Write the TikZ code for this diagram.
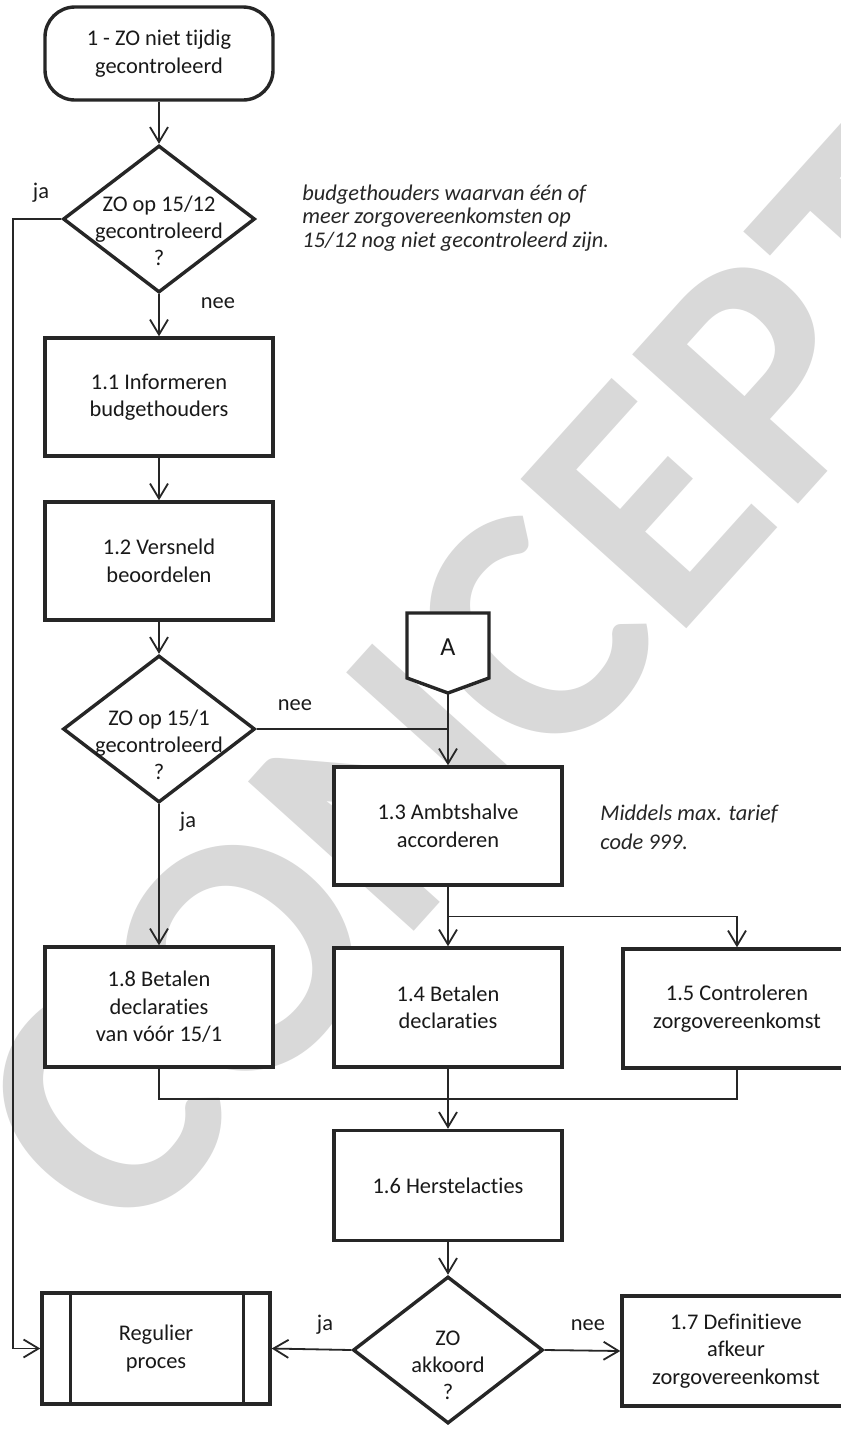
\documentclass[tikz,border=0pt]{standalone}
\usepackage{fontspec}
\setmainfont[Ligatures=NoCommon]{Carlito}
\usetikzlibrary{arrows.meta,shapes.geometric,calc}
\begin{document}
\begin{tikzpicture}[x=0.5pt,y=-0.5pt,
  ink/.style={draw=black!85,line width=1.7pt},
  boxnode/.style={ink,fill=white,rectangle,minimum width=114pt,minimum height=59pt,inner sep=0pt,align=center,font=\fontsize{11.2}{13.75}\selectfont,text=black!90},
  dianode/.style={ink,fill=white,diamond,minimum width=96pt,minimum height=73.5pt,inner sep=0pt},
  txtnode/.style={inner sep=0pt,align=center,font=\fontsize{11.2}{13.5}\selectfont,text=black!90},
  lbl/.style={inner sep=0pt,font=\fontsize{11.2}{13}\selectfont,text=black!90},
  notenode/.style={inner sep=0pt,align=left,text=black!85},
  conn/.style={draw=black!85,line width=0.9pt},
  arr/.style={conn,-{Straight Barb[length=7.5pt,width=9pt,line width=0.9pt]}}
]
\clip (0,0) rectangle (841,1441);
\fill[white] (0,0) rectangle (841,1441);
% watermark
\node[rotate=48,text=black!15,font=\fontsize{172}{172}\selectfont\bfseries,inner sep=0pt] (wm) at (490,680) {CONCEPT};

% terminal
\node[boxnode,rounded corners=15pt,minimum height=46.5pt] (t) at (159,53.5) {1 - ZO niet tijdig\\gecontroleerd};

% decision 1
\node[dianode] (d1) at (159,219) {};
\node[txtnode] (d1t) at (159,231) {ZO op 15/12\\gecontroleerd\\?};

\node[notenode,anchor=west,font=\fontsize{11.2}{11.75}\selectfont\itshape] (n1) at (302,218)
  {budgethouders waarvan één of\\meer zorgovereenkomsten op\\15/12 nog niet gecontroleerd zijn.};

\node[boxnode] (b11) at (159,397) {1.1 Informeren\\budgethouders};
\node[boxnode] (b12) at (159,561) {1.2 Versneld\\beoordelen};

% decision 2
\node[dianode] (d2) at (159,729) {};
\node[txtnode] (d2t) at (159,745) {ZO op 15/1\\gecontroleerd\\?};

% off-page connector A
\draw[ink,fill=white] (407,613) -- (489,613) -- (489,678) -- (448,693) -- (407,678) -- cycle;
\node[lbl,font=\fontsize{13}{15}\selectfont] (A) at (448,647) {A};
\coordinate (Abot) at (448,693);

\node[boxnode] (b13) at (448,826) {1.3 Ambtshalve\\accorderen};
\node[notenode,anchor=west,font=\fontsize{11.2}{14.5}\selectfont\itshape] (n2) at (600,827.5)
  {Middels max. tarief\\code 999.};

\node[boxnode,minimum height=60pt] (b18) at (159,1007) {1.8 Betalen\\declaraties\\van vóór 15/1};
\node[boxnode,minimum height=59.5pt] (b14) at (448,1007.5) {1.4 Betalen\\declaraties};
\node[boxnode,minimum height=59.5pt] (b15) at (737,1008.5) {1.5 Controleren\\zorgovereenkomst};

\node[boxnode,minimum height=55pt] (b16) at (448,1185.5) {1.6 Herstelacties};

% decision 3
\node[dianode,minimum width=95pt] (d3) at (448,1350) {};
\node[txtnode] (d3t) at (448,1365) {ZO\\akkoord\\?};

\node[boxnode,minimum height=55.5pt] (reg) at (156,1348.5) {Regulier\\proces};
\draw[ink] ([xshift=15pt]reg.north west) -- ([xshift=15pt]reg.south west);
\draw[ink] ([xshift=-14pt]reg.north east) -- ([xshift=-14pt]reg.south east);

\node[boxnode,minimum height=55pt] (b17) at (736,1351) {1.7 Definitieve\\afkeur\\zorgovereenkomst};

% connectors
\draw[arr] (t.south) -- (d1.north);
\draw[arr] (d1.south) -- (b11.north);
\draw[arr] (b11.south) -- (b12.north);
\draw[arr] (b12.south) -- (d2.north);
\draw[arr] (d2.south) -- (b18.north);
\draw[conn] (d2.east) -- (d2.east -| Abot);
\draw[arr] (Abot) -- (b13.north);
\draw[arr] (b13.south) -- (b14.north);
\coordinate (j1) at ($(b13.south)!0.5!(b14.north)$);
\draw[arr] (j1) -| (b15.north);
\draw[conn] (b18.south) -- ++(0,30) -| (b15.south);
\draw[arr] (b14.south) -- (b16.north);
\draw[arr] (b16.south) -- (d3.north);
\draw[arr] (d3.west) -- (reg.east);
\draw[arr] (d3.east) -- (b17.west);
\draw[arr] (d1.west) -- ++(-48,0) |- (reg.west);

% labels
\node[lbl] (l1) at (41,193) {ja};
\node[lbl] (l2) at (218,303) {nee};
\node[lbl] (l3) at (295,705) {nee};
\node[lbl] (l4) at (188,822) {ja};
\node[lbl] (l5) at (325,1325) {ja};
\node[lbl] (l6) at (588,1325) {nee};
\end{tikzpicture}
\end{document}
